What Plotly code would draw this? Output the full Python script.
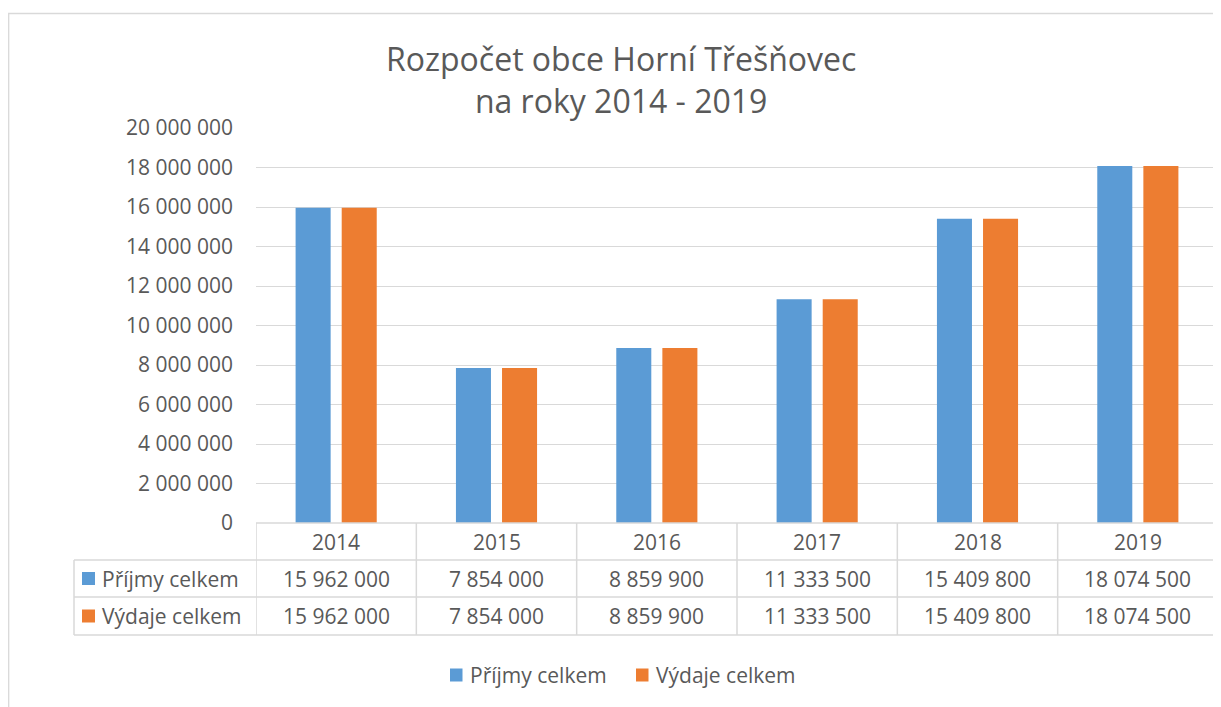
import plotly.graph_objects as go

years = ["2014", "2015", "2016", "2017", "2018", "2019"]
prijmy = [15962000, 7854000, 8859900, 11333500, 15409800, 18074500]
vydaje = [15962000, 7854000, 8859900, 11333500, 15409800, 18074500]
series_names = ["Příjmy celkem", "Výdaje celkem"]
colors = ["#5B9BD5", "#ED7D31"]

FONT = "Open Sans"
TXT = "#595959"
GRID = "#D9D9D9"
FS = 21

OFF = 8  # body margin of the page
W, H = 1221 - OFF, 707 - OFF
L, R, T, B = 256 - OFF, 3, 128 - OFF, 707 - 523
PW = W - L - R
PH = H - T - B

def py(pix):
    # pix: screen y in reference
    return (523 - pix) / PH

def px(pix):
    return (pix - 256) / PW

fig = go.Figure()
xs = list(range(len(years)))
for name, vals, col in zip(series_names, [prijmy, vydaje], colors):
    fig.add_trace(go.Bar(x=xs, y=vals, name=name, marker_color=col, marker_line_width=0,
                         showlegend=False))

def fmt(v):
    return f"{v:,}".replace(",", " ")

def tfont():
    return dict(family=FONT, size=FS, color=TXT)

ann = []
shapes = []
row_y = [py(541.5), py(578.5), py(616)]
for i, yr in enumerate(years):
    for r, txt in enumerate([yr, fmt(prijmy[i]), fmt(vydaje[i])]):
        ann.append(dict(x=i, y=row_y[r], xref="x", yref="paper", text=txt, showarrow=False,
                        xanchor="center", yanchor="middle", font=tfont()))
for k, (name, col) in enumerate(zip(series_names, colors)):
    yc = row_y[k + 1]
    shapes.append(dict(type="rect", xref="paper", yref="paper", x0=px(82), x1=px(95),
                       y0=yc - 6.5 / PH, y1=yc + 6.5 / PH, fillcolor=col, line_width=0))
    ann.append(dict(x=px(100), y=yc, xref="paper", yref="paper", text=name, showarrow=False,
                    xanchor="left", yanchor="middle", font=tfont()))
# legend (bottom)
leg_y = py(675)
for name, col, sx in zip(series_names, colors, [450, 636]):
    shapes.append(dict(type="rect", xref="paper", yref="paper", x0=px(sx), x1=px(sx + 12.5),
                       y0=leg_y - 6.5 / PH, y1=leg_y + 6.5 / PH, fillcolor=col, line_width=0))
    ann.append(dict(x=px(sx + 18), y=leg_y, xref="paper", yref="paper", text=name, showarrow=False,
                    xanchor="left", yanchor="middle", font=tfont()))
# table lines
lw = 1.5
for yy in [560, 597, 635]:
    shapes.append(dict(type="line", xref="paper", yref="paper", x0=px(74), x1=1,
                       y0=py(yy), y1=py(yy), line=dict(color=GRID, width=lw)))
shapes.append(dict(type="line", xref="paper", yref="paper", x0=px(74), x1=px(74),
                   y0=py(560), y1=py(635), line=dict(color=GRID, width=lw)))
for k in range(len(years) + 1):
    shapes.append(dict(type="line", xref="x", yref="paper", x0=k - 0.5, x1=k - 0.5,
                       y0=0, y1=py(635), line=dict(color=GRID, width=lw)))
shapes.append(dict(type="line", xref="paper", yref="paper", x0=0, x1=1,
                   y0=0, y1=0, line=dict(color=GRID, width=lw)))
# outer chart border
shapes.append(dict(type="rect", xref="paper", yref="paper", x0=px(8.7), x1=px(1240),
                   y0=py(730), y1=py(13.5), line=dict(color="#D9D9D9", width=1.3),
                   fillcolor="rgba(0,0,0,0)", layer="below"))
# title
ann.append(dict(x=px(621), y=py(79), xref="paper", yref="paper",
                text="Rozpočet obce Horní Třešňovec<br>na roky 2014 - 2019",
                showarrow=False, xanchor="center", yanchor="middle",
                font=dict(family=FONT, size=32, color=TXT)))

fig.update_layout(
    width=W, height=H,
    margin=dict(l=L, r=R, t=T, b=B),
    paper_bgcolor="white", plot_bgcolor="white",
    separators=", ",
    barmode="group", bargap=0.425, bargroupgap=0.24,
    xaxis=dict(range=[-0.5, 5.5], showticklabels=False, showgrid=False, zeroline=False,
               showline=False, fixedrange=True),
    yaxis=dict(range=[0, 20000000], dtick=2000000, tickformat=",d", showgrid=True,
               gridcolor=GRID, gridwidth=1, zeroline=False, showline=False,
               tickfont=tfont(), ticklabelstandoff=22),
    showlegend=False,
    annotations=ann, shapes=shapes,
)

fig.write_html("out.html")
